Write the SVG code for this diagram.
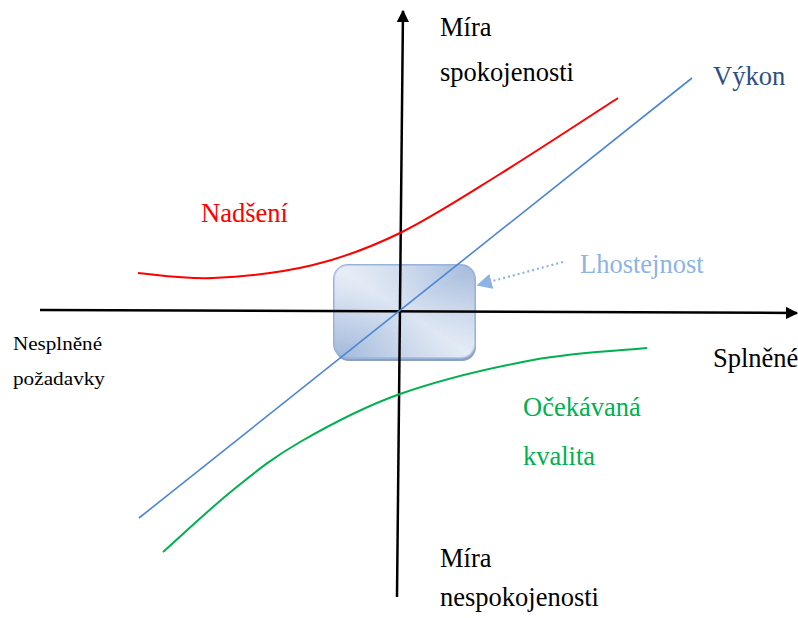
<svg xmlns="http://www.w3.org/2000/svg" width="798" height="618" viewBox="0 0 798 618">
<defs>
<marker id="ah" viewBox="0 0 10 10" refX="9" refY="5" markerWidth="5" markerHeight="5" orient="auto" markerUnits="strokeWidth"><path d="M0,0 L10,5 L0,10 z" fill="#000"/></marker>
<marker id="ah2" viewBox="0 0 10 10" refX="9" refY="5" markerWidth="7" markerHeight="7" orient="auto" markerUnits="strokeWidth"><path d="M0,0 L10,5 L0,10 z" fill="#8db3e2"/></marker>
<linearGradient id="g" x1="0" y1="1" x2="1" y2="0">
<stop offset="0" stop-color="#9fb6da"/>
<stop offset="0.5" stop-color="#d9e3f1"/>
<stop offset="1" stop-color="#a3b9dc"/>
</linearGradient>
<linearGradient id="g2" x1="0" y1="0" x2="1" y2="1">
<stop offset="0" stop-color="#ffffff" stop-opacity="0.45"/>
<stop offset="0.5" stop-color="#ffffff" stop-opacity="0"/>
<stop offset="1" stop-color="#ffffff" stop-opacity="0.35"/>
</linearGradient>
</defs>
<style>
text{font-family:"Liberation Serif","Times New Roman",serif;font-size:26.5px;fill:#000}
.ax{stroke:#000;stroke-width:2.5;fill:none}
.sm{font-size:18.5px}
</style>
<rect width="798" height="618" fill="#fff"/>
<g id="box">
<rect x="335" y="268" width="141" height="93" rx="14" fill="#8c9fbd"/>
<rect x="334" y="265" width="141" height="93" rx="14" fill="url(#g)" stroke="#9ab4d8" stroke-width="2"/>
<rect x="334" y="265" width="141" height="93" rx="14" fill="url(#g2)"/>
</g>
<g id="connectors">
<line class="ax" x1="40" y1="310" x2="797" y2="313" marker-end="url(#ah)"/>
<line class="ax" x1="397" y1="597" x2="403" y2="11" marker-end="url(#ah)"/>
<line x1="139" y1="518" x2="692" y2="78" stroke="#4a86d4" stroke-width="1.6"/>
<path d="M138,273 C150.5,273.8 183.8,279.3 213,278 C242.2,276.7 281.8,272.5 313,265 C344.2,257.5 368.8,248.2 400,233 C431.2,217.8 463.7,196.5 500,174 C536.3,151.5 598.3,110.7 618,98" fill="none" stroke="#ff0000" stroke-width="2"/>
<path d="M163,552 C174.7,541.7 210.2,508.3 233,490 C255.8,471.7 272.2,458 300,442 C327.8,426 361.2,407.7 400,394 C438.8,380.3 491.8,367.7 533,360 C574.2,352.3 628,350 647,348" fill="none" stroke="#00b050" stroke-width="2"/>
<line x1="563" y1="262" x2="478" y2="285" stroke="#8db3e2" stroke-width="2.2" stroke-dasharray="2 3" marker-end="url(#ah2)"/>
</g>
<g id="labels">
<text x="440" y="36">Míra</text>
<text x="440" y="81">spokojenosti</text>
<text x="440" y="567">Míra</text>
<text x="440" y="606">nespokojenosti</text>
<text class="sm" x="13" y="350" textLength="89" lengthAdjust="spacingAndGlyphs">Nesplněné</text>
<text class="sm" x="13" y="385" textLength="92" lengthAdjust="spacingAndGlyphs">požadavky</text>
<text x="713" y="367">Splněné</text>
<text x="713" y="85" style="fill:#2a4f86">Výkon</text>
<text x="201" y="222" style="fill:#ff0000">Nadšení</text>
<text x="580" y="273" style="fill:#8db3e2">Lhostejnost</text>
<text x="523" y="416" style="fill:#00b050">Očekávaná</text>
<text x="523" y="465" style="fill:#00b050">kvalita</text>
</g>
</svg>
